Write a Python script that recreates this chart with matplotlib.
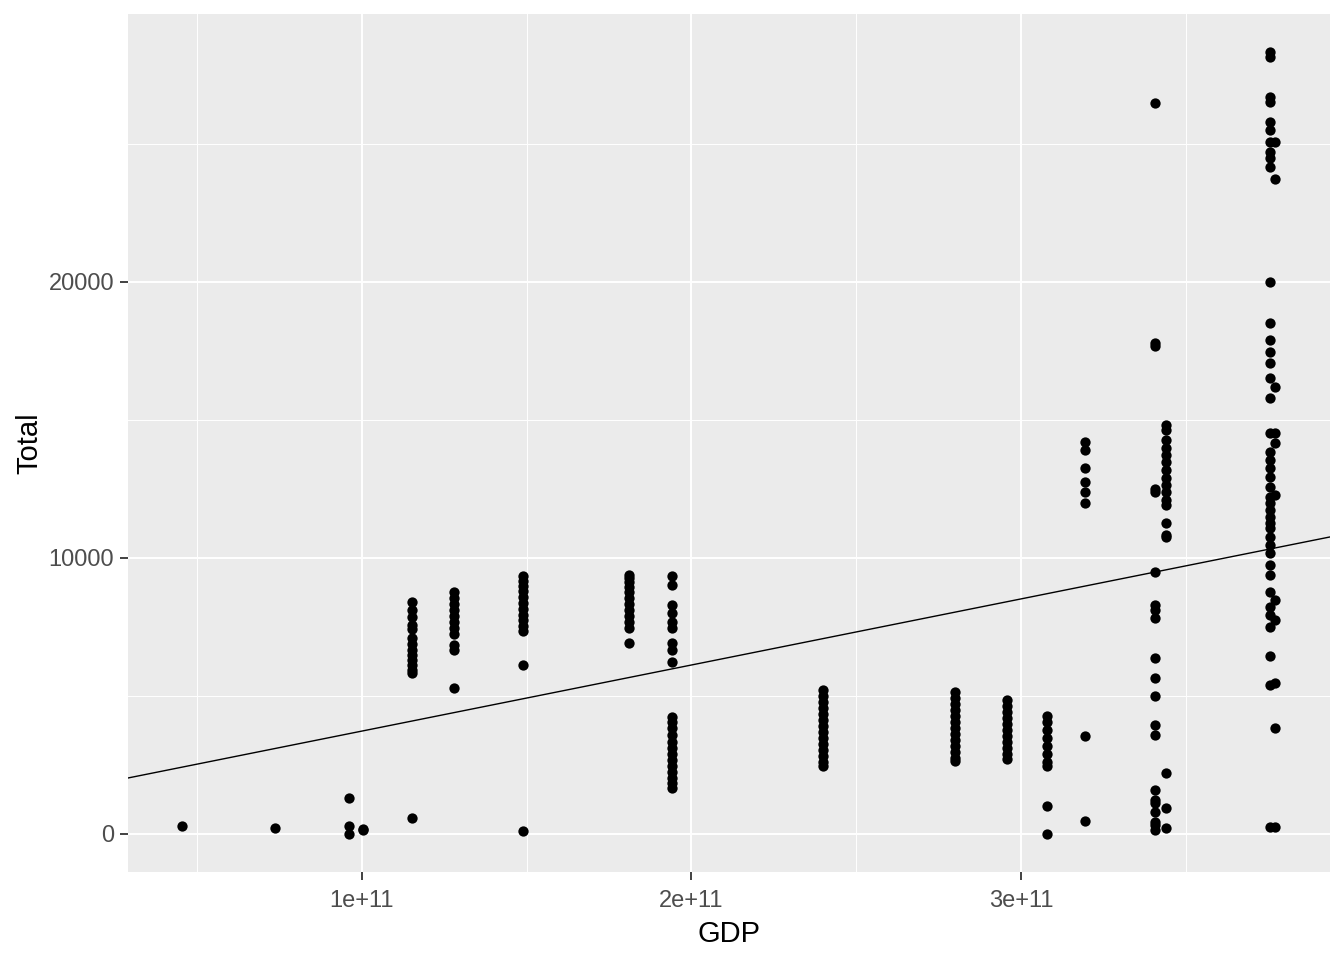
import numpy as np
import matplotlib
matplotlib.use("Agg")
import matplotlib.pyplot as plt

plt.rcParams['font.family'] = ['Liberation Sans', 'DejaVu Sans']

# GDP values (one per country/column) and the Total values seen at each one
gdp = [0.454e11, 0.736e11, 0.96e11, 1.003e11, 1.152e11, 1.28e11, 1.489e11,
       1.81e11, 1.94e11, 2.40e11, 2.80e11, 2.957e11, 3.08e11, 3.194e11,
       3.407e11, 3.44e11, 3.756e11, 3.771e11]

totals = [
    [290],
    [220],
    [1300, 290, 0],
    [150, 180],
    [8406, 8116, 7862, 7572, 7428, 7101, 6884, 6667, 6486, 6304, 6123, 5942, 5833, 580],
    [8768, 8551, 8333, 8116, 7899, 7681, 7464, 7246, 6848, 6667, 5290],
    [9348, 9167, 8986, 8804, 8587, 8370, 8152, 7935, 7754, 7536, 7355, 6123, 110],
    [9384, 9275, 9130, 8949, 8768, 8551, 8333, 8116, 7899, 7681, 7464, 6920],
    [9348, 9022, 8297, 8007, 7681, 7464, 6920, 6667, 6232,
     4239, 4058, 3841, 3587, 3333, 3116, 2899, 2681, 2464, 2246, 2029, 1848, 1667],
    [5217, 5000, 4783, 4565, 4348, 4130, 3913, 3696, 3478, 3261, 3043, 2826, 2609, 2464],
    [5145, 4928, 4710, 4493, 4275, 4058, 3841, 3623, 3406, 3188, 2971, 2754, 2645],
    [4855, 4638, 4420, 4203, 3986, 3768, 3551, 3333, 3116, 2899, 2717],
    [4275, 4058, 3768, 3478, 3188, 2899, 2609, 2464, 1014, 0],
    [14203, 13913, 13261, 12754, 12391, 11993, 3551, 471],
    [26486, 17790, 17680, 12391, 12500, 9493, 8297, 8116, 7826, 6377, 5652, 5000,
     3949, 3587, 1594, 1232, 1123, 797, 435, 326, 145],
    [14819, 14638, 14275, 13986, 13732, 13478, 13188, 12899, 12645, 12391, 12101,
     11920, 11268, 10833, 10761, 2210, 942, 217],
    [28333, 28152, 26703, 26522, 25797, 25507, 25072, 24710, 24493, 24167, 20000,
     18514, 17899, 17464, 17065, 16522, 15797, 14529, 13841, 13551, 13261, 12935,
     12572, 12210, 11993, 11739, 11486, 11268, 11087, 10761, 10471, 10181, 9746,
     9384, 8768, 8225, 7935, 7500, 6449, 5399, 254],
    [25072, 23732, 16196, 14529, 14167, 12283, 8478, 7754, 5471, 3841, 254],
]

# lm line (intercept, slope per unit GDP)
intercept = 1335
slope = 2.394e-8

x_ticks = [1e11, 2e11, 3e11]
x_labels = ['1e+11', '2e+11', '3e+11']
y_ticks = [0, 10000, 20000]

x = np.concatenate([[g] * len(t) for g, t in zip(gdp, totals)])
y = np.concatenate([np.array(t, dtype=float) for t in totals])

W, H = 1344, 960
fig = plt.figure(figsize=(W / 100, H / 100), dpi=100)
ax = fig.add_axes([128 / W, (H - 872) / H, (1330 - 128) / W, (872 - 14) / H])
ax.set_facecolor('#EBEBEB')

ax.set_xlim(0.29e11, 3.938e11)
ax.set_ylim(-1377, 29710)

# grid: minor then major, ggplot style
for v in [0.5e11, 1.5e11, 2.5e11, 3.5e11]:
    ax.axvline(v, color='white', lw=0.7, zorder=0)
for v in [5000, 15000, 25000]:
    ax.axhline(v, color='white', lw=0.7, zorder=0)
for v in x_ticks:
    ax.axvline(v, color='white', lw=1.4, zorder=0)
for v in y_ticks:
    ax.axhline(v, color='white', lw=1.4, zorder=0)

ax.scatter(x, y, s=55, color='black', linewidths=0, zorder=3)
ax.axline((0, intercept), slope=slope, color='black', lw=1.0, zorder=4)

ax.set_xticks(x_ticks)
ax.set_xticklabels(x_labels)
ax.set_yticks(y_ticks)
ax.set_yticklabels([str(v) for v in y_ticks])
ax.tick_params(axis='both', colors='#333333', labelcolor='#4D4D4D',
               labelsize=17, length=6, width=1.3, pad=4)
ax.tick_params(axis='x', pad=7)
for s in ax.spines.values():
    s.set_visible(False)

ax.set_xlabel('GDP', fontsize=21, color='black', labelpad=6)
ax.set_ylabel('Total', fontsize=21, color='black', labelpad=4)

fig.savefig('out.png', dpi=100)
